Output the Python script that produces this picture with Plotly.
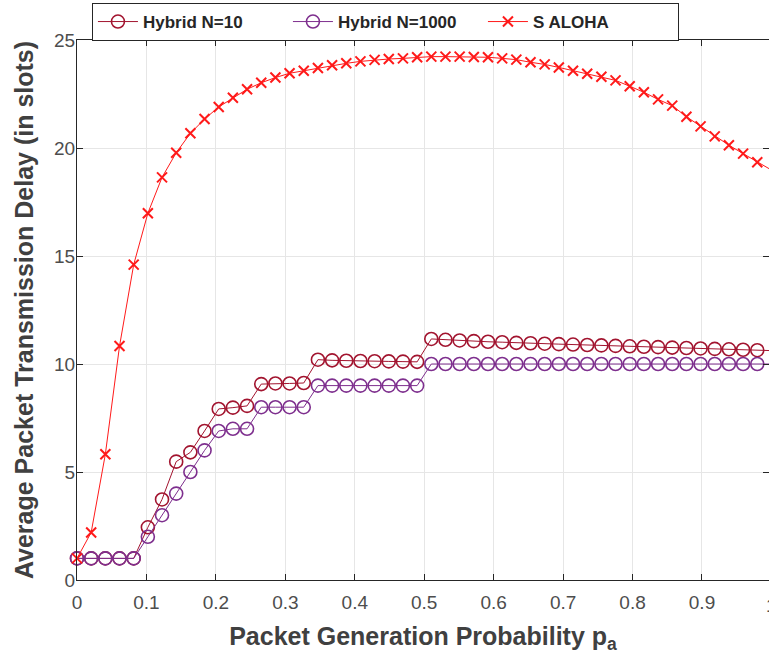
import numpy as np
import plotly.graph_objects as go

# x: packet generation probability (50 evenly spaced points from 0 to 1)
p_a = list(np.linspace(0, 1, 50))

hybrid_n10 = [1, 1, 1, 1, 1, 2.44, 3.73, 5.48, 5.91, 6.9,
              7.92, 7.98, 8.06, 9.07, 9.1, 9.1, 9.12, 10.2, 10.17, 10.15,
              10.14, 10.13, 10.12, 10.11, 10.1, 11.16, 11.12, 11.09, 11.06, 11.03,
              11.01, 10.98, 10.96, 10.94, 10.92, 10.9, 10.88, 10.86, 10.84, 10.82,
              10.8, 10.78, 10.76, 10.74, 10.72, 10.7, 10.68, 10.66, 10.64, 10.62]

hybrid_n1000 = [1, 1, 1, 1, 1, 2, 3, 4, 5, 6,
                6.9, 7, 7, 8, 8, 8, 8, 9, 9, 9,
                9, 9, 9, 9, 9, 10, 10, 10, 10, 10,
                10, 10, 10, 10, 10, 10, 10, 10, 10, 10,
                10, 10, 10, 10, 10, 10, 10, 10, 10, 10]

s_aloha = [1, 2.2, 5.82, 10.83, 14.6, 16.98, 18.64, 19.78, 20.68, 21.34,
           21.9, 22.33, 22.72, 23.02, 23.26, 23.46, 23.58, 23.7, 23.83, 23.92,
           24.01, 24.08, 24.12, 24.15, 24.2, 24.23, 24.23, 24.23, 24.21, 24.2,
           24.15, 24.09, 23.97, 23.87, 23.73, 23.58, 23.44, 23.3, 23.13, 22.86,
           22.58, 22.25, 21.96, 21.45, 21.0, 20.54, 20.13, 19.74, 19.34, 18.98]

series_names = ["Hybrid N=10", "Hybrid N=1000", "S ALOHA"]
x_ticks = [0, 0.1, 0.2, 0.3, 0.4, 0.5, 0.6, 0.7, 0.8, 0.9, 1]
x_tick_text = ["0", "0.1", "0.2", "0.3", "0.4", "0.5", "0.6", "0.7", "0.8", "0.9", "1"]
y_ticks = [0, 5, 10, 15, 20, 25]
x_title = "Packet Generation Probability p<sub>a</sub>"
y_title = "Average Packet Transmission Delay (in slots)"

C_N10 = "#A2142F"
C_N1000 = "#7E2F8E"
C_ALOHA = "#FF1A1A"
FONT = "Liberation Sans, Arial, Helvetica, sans-serif"
TICK_COLOR = "#4D4D4D"
TITLE_COLOR = "#404040"

fig = go.Figure()
fig.add_trace(go.Scatter(
    x=p_a, y=hybrid_n10, name="<b>" + series_names[0] + "</b>", mode="lines+markers",
    line=dict(color=C_N10, width=1),
    marker=dict(symbol="circle-open", size=13, color=C_N10, line=dict(width=1.6, color=C_N10)),
    cliponaxis=False))
fig.add_trace(go.Scatter(
    x=p_a, y=hybrid_n1000, name="<b>" + series_names[1] + "</b>", mode="lines+markers",
    line=dict(color=C_N1000, width=1),
    marker=dict(symbol="circle-open", size=13, color=C_N1000, line=dict(width=1.6, color=C_N1000)),
    cliponaxis=False))
fig.add_trace(go.Scatter(
    x=p_a, y=s_aloha, name="<b>" + series_names[2] + "</b>", mode="lines+markers",
    line=dict(color=C_ALOHA, width=1),
    marker=dict(symbol="x-thin-open", size=10, color=C_ALOHA, line=dict(width=2, color=C_ALOHA)),
    cliponaxis=False))

axis_common = dict(
    showline=True, linecolor="#262626", linewidth=1, mirror="ticks",
    ticks="inside", ticklen=6, tickcolor="#262626",
    showgrid=True, gridcolor="#E6E6E6", gridwidth=1,
    zeroline=False,
    tickfont=dict(family=FONT, size=19, color=TICK_COLOR),
)

fig.update_layout(
    width=769, height=659,
    paper_bgcolor="white", plot_bgcolor="white",
    margin=dict(l=77, r=0, t=40, b=79, autoexpand=False),
    font=dict(family=FONT),
    xaxis=dict(range=[0, 0.9965], tickvals=x_ticks, ticktext=x_tick_text,
               ticklabelstandoff=5,
               title=dict(text="<b>" + x_title + "</b>",
                          font=dict(family=FONT, size=25, color=TITLE_COLOR), standoff=15),
               **axis_common),
    yaxis=dict(range=[0, 25], tickvals=y_ticks,
               ticklabelstandoff=-3,
               title=dict(text="<b>" + y_title + "</b>",
                          font=dict(family=FONT, size=25, color=TITLE_COLOR), standoff=13),
               **axis_common),
    legend=dict(orientation="h", x=0.0216, xanchor="left", y=1.0685, yanchor="top",
                bgcolor="white", bordercolor="#262626", borderwidth=1,
                font=dict(family=FONT, size=17, color="#262626"),
                itemwidth=40, entrywidth=140, entrywidthmode="pixels", tracegroupgap=0),
    showlegend=True,
)

# The x = 1 tick label sits right at the window edge
fig.add_annotation(x=1.0 / 0.9965, xref="paper", y=0, yref="paper", yshift=-13,
                   yanchor="top", text="1", showarrow=False, xanchor="center",
                   font=dict(family=FONT, size=19, color=TICK_COLOR))

# remove the default 8px page margin so the figure sits at the window's corner
fig.write_html("out.html", config={"displayModeBar": False},
               post_script="document.body.style.margin='0px';")
